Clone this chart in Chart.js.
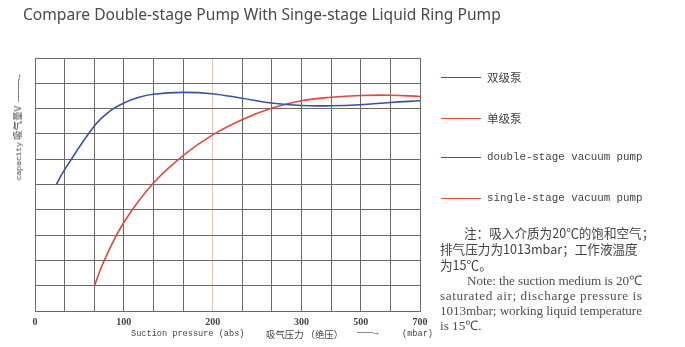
<!DOCTYPE html>
<html>
<head>
<meta charset="utf-8">
<script src="https://cdn.jsdelivr.net/npm/chart.js@4"></script>
<style>
  html,body{margin:0;padding:0;background:#fff;}
  #wrap{position:relative;width:685px;height:347px;overflow:hidden;}
  canvas{position:absolute;left:0;top:0;}
  .t{position:absolute;white-space:nowrap;color:#444;}
  .mono{font-family:"Liberation Mono","DejaVu Sans Mono",monospace;}
  .cjk{font-family:"Noto Sans CJK SC",sans-serif;}
  .leg{position:absolute;left:441px;width:40px;height:0;border-top:1.6px solid;}
  .note{position:absolute;font-family:"Liberation Serif",serif;font-size:13.2px;line-height:15px;color:#505050;white-space:nowrap;}
</style>
</head>
<body>
<div id="wrap">
  <canvas id="c" width="685" height="347"></canvas>
  <div class="t" style="left:23px;top:3px;font-family:'Noto Sans',sans-serif;font-size:15.6px;color:#4a4a4a;">Compare Double-stage Pump With Singe-stage Liquid Ring Pump</div>

  <div class="t" id="ytitle" style="left:17px;top:128px;transform:translate(-50%,-50%) rotate(-90deg);font-size:8px;">
    <span class="mono" style="font-size:8px;">capacity</span>&nbsp;<span class="cjk" style="font-size:9.5px;">吸气量V</span>&nbsp;&nbsp;<span class="mono" style="letter-spacing:-1px;font-size:9px;">—————→</span>
  </div>

  <div class="t mono" style="left:131px;top:329px;font-size:8.6px;">Suction pressure (abs)</div>
  <div class="t cjk" style="left:266px;top:327px;font-size:9.4px;">吸气压力 （绝压）</div>
  <div class="t mono" style="left:357px;top:328px;font-size:9px;">———→</div>
  <div class="t mono" style="left:402px;top:329px;font-size:8.6px;">(mbar)</div>

  <div class="leg" style="top:77px;border-color:#3a52a0;"></div>
  <div class="leg" style="top:118px;border-color:#e4473c;"></div>
  <div class="leg" style="top:157px;border-color:#3a52a0;"></div>
  <div class="leg" style="top:198px;border-color:#e4473c;"></div>
  <div class="t cjk" style="left:487px;top:69px;font-size:11.5px;">双级泵</div>
  <div class="t cjk" style="left:487px;top:110px;font-size:11.5px;">单级泵</div>
  <div class="t mono" style="left:487px;top:151px;font-size:10.8px;">double-stage vacuum pump</div>
  <div class="t mono" style="left:487px;top:192px;font-size:10.8px;">single-stage vacuum pump</div>

  <div class="t cjk" style="left:464px;top:225px;font-size:12.6px;line-height:16px;">注：吸入介质为20℃的饱和空气；</div>
  <div class="t cjk" style="left:440px;top:241px;font-size:12.6px;line-height:16px;">排气压力为1013mbar；工作液温度</div>
  <div class="t cjk" style="left:440px;top:257px;font-size:12.6px;line-height:16px;">为15℃。</div>
  <div class="note fit" data-w="175" style="left:467px;top:273px;">Note: the suction medium is 20℃</div>
  <div class="note fit" data-w="202" style="left:440px;top:288px;">saturated air; discharge pressure is</div>
  <div class="note fit" data-w="202" style="left:440px;top:303px;">1013mbar; working liquid temperature</div>
  <div class="note" style="left:440px;top:318px;">is 15℃.</div>
</div>
<script>
// Suction pressure (mbar) and capacity (relative grid units 0..10)
const doublePressure = [24, 33, 67, 84, 100, 117, 133, 166, 199, 233, 266, 300, 398, 498, 599, 700];
const doubleCapacity = [5.0, 5.57, 7.32, 7.89, 8.22, 8.45, 8.57, 8.64, 8.59, 8.41, 8.22, 8.12, 8.11, 8.15, 8.24, 8.31];
const singlePressure = [67, 78, 100, 133, 167, 200, 233, 267, 300, 400, 500, 600, 700];
const singleCapacity = [1.0, 2.0, 3.5, 5.05, 6.15, 6.96, 7.56, 8.02, 8.31, 8.45, 8.52, 8.53, 8.48];
// Axis: grid divisions and their tick labels (non-uniform pressure scale)
const tickPressures = [0, 33.3, 66.7, 100, 133.3, 166.7, 200, 233.3, 266.7, 300, 400, 500, 600, 700];
const tickLabels = ["0", "", "", "100", "", "", "200", "", "", "300", "", "500", "", "700"];
const highlightPressure = 200;

// map pressure to grid-division position (piecewise linear between ticks)
function toAxis(p) {
  for (let i = 0; i < tickPressures.length - 1; i++) {
    const a = tickPressures[i], b = tickPressures[i + 1];
    if (p <= b) return i + (p - a) / (b - a);
  }
  return tickPressures.length - 1;
}
const hlIndex = Math.round(toAxis(highlightPressure));

const mk = (xs, ys) => xs.map((p, i) => ({ x: toAxis(p), y: ys[i] }));

// stretch full-width note lines to their justified width
document.querySelectorAll('.fit').forEach(el => {
  const target = +el.dataset.w;
  const w = el.getBoundingClientRect().width;
  const n = el.textContent.length - 1;
  if (n > 0) el.style.letterSpacing = ((target - w) / n) + 'px';
});

new Chart(document.getElementById('c'), {
  type: 'line',
  data: {
    datasets: [
      { label: '双级泵', data: mk(doublePressure, doubleCapacity), borderColor: '#3a52a0', borderWidth: 1.6, pointRadius: 0, tension: 0.4, fill: false },
      { label: '单级泵', data: mk(singlePressure, singleCapacity), borderColor: '#e4473c', borderWidth: 1.6, pointRadius: 0, tension: 0.4, fill: false }
    ]
  },
  options: {
    responsive: false,
    animation: false,
    devicePixelRatio: 1,
    layout: { padding: { left: 35, right: 265, top: 58, bottom: 0 } },
    plugins: { legend: { display: false }, tooltip: { enabled: false }, title: { display: false } },
    scales: {
      x: {
        type: 'linear', min: 0, max: tickPressures.length - 1,
        afterFit: s => { s.height = 36; },
        border: { color: '#6a6a6a', width: 1 },
        grid: {
          drawTicks: false, lineWidth: 1,
          color: ctx => (ctx.tick && ctx.tick.value === hlIndex) ? '#f3c0a0' : '#6a6a6a'
        },
        ticks: {
          stepSize: 1, autoSkip: false, maxRotation: 0, padding: 5,
          color: '#444', font: { family: 'Liberation Serif', size: 10, weight: 'bold' },
          callback: v => tickLabels[v] ?? ''
        }
      },
      y: {
        type: 'linear', min: 0, max: 10,
        afterFit: s => { s.width = 0; },
        border: { color: '#6a6a6a', width: 1 },
        grid: { drawTicks: false, color: '#6a6a6a', lineWidth: 1 },
        ticks: { display: false, stepSize: 1 }
      }
    }
  }
});
</script>
</body>
</html>
